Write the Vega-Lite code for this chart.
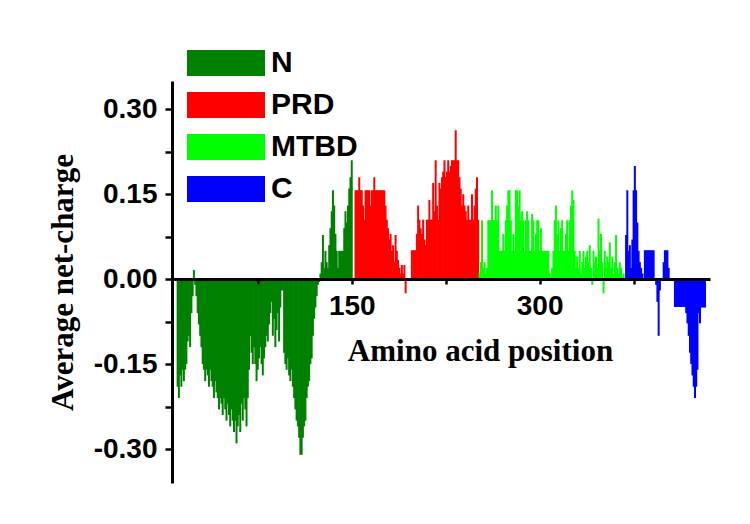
{
  "$schema": "https://vega.github.io/schema/vega-lite/v6.json",
  "width": 538,
  "height": 402,
  "autosize": {"type": "none"},
  "padding": {"left": 172, "top": 81, "right": 40, "bottom": 41},
  "background": "white",
  "config": {"view": {"stroke": null}},
  "data": {"values": [
    {"p":11,"v":-0.19,"d":"N"},{"p":12,"v":-0.21,"d":"N"},{"p":13,"v":-0.17,"d":"N"},{"p":14,"v":-0.19,"d":"N"},{"p":15,"v":-0.16,"d":"N"},
    {"p":16,"v":-0.18,"d":"N"},{"p":17,"v":-0.16,"d":"N"},{"p":18,"v":-0.15,"d":"N"},{"p":19,"v":-0.11,"d":"N"},{"p":20,"v":-0.10,"d":"N"},
    {"p":21,"v":-0.12,"d":"N"},{"p":22,"v":-0.06,"d":"N"},{"p":23,"v":-0.03,"d":"N"},{"p":24,"v":0.016,"d":"N"},{"p":25,"v":-0.01,"d":"N"},
    {"p":26,"v":-0.03,"d":"N"},{"p":27,"v":-0.06,"d":"N"},{"p":28,"v":-0.08,"d":"N"},{"p":29,"v":-0.10,"d":"N"},{"p":30,"v":-0.12,"d":"N"},
    {"p":31,"v":-0.15,"d":"N"},{"p":32,"v":-0.16,"d":"N"},{"p":33,"v":-0.18,"d":"N"},{"p":34,"v":-0.16,"d":"N"},{"p":35,"v":-0.17,"d":"N"},
    {"p":36,"v":-0.19,"d":"N"},{"p":37,"v":-0.16,"d":"N"},{"p":38,"v":-0.18,"d":"N"},{"p":39,"v":-0.19,"d":"N"},{"p":40,"v":-0.21,"d":"N"},
    {"p":41,"v":-0.18,"d":"N"},{"p":42,"v":-0.20,"d":"N"},{"p":43,"v":-0.21,"d":"N"},{"p":44,"v":-0.23,"d":"N"},{"p":45,"v":-0.21,"d":"N"},
    {"p":46,"v":-0.22,"d":"N"},{"p":47,"v":-0.24,"d":"N"},{"p":48,"v":-0.21,"d":"N"},{"p":49,"v":-0.23,"d":"N"},{"p":50,"v":-0.25,"d":"N"},
    {"p":51,"v":-0.22,"d":"N"},{"p":52,"v":-0.24,"d":"N"},{"p":53,"v":-0.26,"d":"N"},{"p":54,"v":-0.23,"d":"N"},{"p":55,"v":-0.25,"d":"N"},
    {"p":56,"v":-0.27,"d":"N"},{"p":57,"v":-0.25,"d":"N"},{"p":58,"v":-0.29,"d":"N"},{"p":59,"v":-0.26,"d":"N"},{"p":60,"v":-0.24,"d":"N"},
    {"p":61,"v":-0.27,"d":"N"},{"p":62,"v":-0.22,"d":"N"},{"p":63,"v":-0.25,"d":"N"},{"p":64,"v":-0.21,"d":"N"},{"p":65,"v":-0.23,"d":"N"},
    {"p":66,"v":-0.26,"d":"N"},{"p":67,"v":-0.21,"d":"N"},{"p":68,"v":-0.16,"d":"N"},{"p":69,"v":-0.10,"d":"N"},{"p":70,"v":-0.13,"d":"N"},
    {"p":71,"v":-0.15,"d":"N"},{"p":72,"v":-0.12,"d":"N"},{"p":73,"v":-0.15,"d":"N"},{"p":74,"v":-0.18,"d":"N"},{"p":75,"v":-0.16,"d":"N"},
    {"p":76,"v":-0.14,"d":"N"},{"p":77,"v":-0.12,"d":"N"},{"p":78,"v":-0.15,"d":"N"},{"p":79,"v":-0.17,"d":"N"},{"p":80,"v":-0.14,"d":"N"},
    {"p":81,"v":-0.12,"d":"N"},{"p":82,"v":-0.10,"d":"N"},{"p":83,"v":-0.11,"d":"N"},{"p":84,"v":-0.08,"d":"N"},{"p":85,"v":-0.06,"d":"N"},
    {"p":86,"v":-0.04,"d":"N"},{"p":87,"v":-0.10,"d":"N"},{"p":88,"v":-0.07,"d":"N"},{"p":89,"v":-0.12,"d":"N"},{"p":90,"v":-0.09,"d":"N"},
    {"p":91,"v":-0.06,"d":"N"},{"p":92,"v":-0.11,"d":"N"},{"p":93,"v":-0.05,"d":"N"},{"p":94,"v":-0.02,"d":"N"},{"p":95,"v":-0.02,"d":"N"},
    {"p":96,"v":-0.13,"d":"N"},{"p":97,"v":-0.15,"d":"N"},{"p":98,"v":-0.16,"d":"N"},{"p":99,"v":-0.14,"d":"N"},{"p":100,"v":-0.17,"d":"N"},
    {"p":101,"v":-0.18,"d":"N"},{"p":102,"v":-0.16,"d":"N"},{"p":103,"v":-0.19,"d":"N"},{"p":104,"v":-0.21,"d":"N"},{"p":105,"v":-0.23,"d":"N"},
    {"p":106,"v":-0.25,"d":"N"},{"p":107,"v":-0.26,"d":"N"},{"p":108,"v":-0.28,"d":"N"},{"p":109,"v":-0.31,"d":"N"},{"p":110,"v":-0.31,"d":"N"},
    {"p":111,"v":-0.28,"d":"N"},{"p":112,"v":-0.26,"d":"N"},{"p":113,"v":-0.25,"d":"N"},{"p":114,"v":-0.21,"d":"N"},{"p":115,"v":-0.19,"d":"N"},
    {"p":116,"v":-0.18,"d":"N"},{"p":117,"v":-0.15,"d":"N"},{"p":118,"v":-0.14,"d":"N"},{"p":119,"v":-0.10,"d":"N"},{"p":120,"v":-0.07,"d":"N"},
    {"p":121,"v":-0.05,"d":"N"},{"p":122,"v":-0.03,"d":"N"},{"p":123,"v":-0.01,"d":"N"},{"p":124,"v":-0.005,"d":"N"},{"p":125,"v":0.01,"d":"N"},
    {"p":126,"v":0.03,"d":"N"},{"p":127,"v":0.078,"d":"N"},{"p":128,"v":0.02,"d":"N"},{"p":129,"v":0.05,"d":"N"},{"p":130,"v":0.03,"d":"N"},
    {"p":131,"v":0.02,"d":"N"},{"p":132,"v":0.06,"d":"N"},{"p":133,"v":0.09,"d":"N"},{"p":134,"v":0.12,"d":"N"},{"p":135,"v":0.157,"d":"N"},
    {"p":136,"v":0.13,"d":"N"},{"p":137,"v":0.08,"d":"N"},{"p":138,"v":0.05,"d":"N"},{"p":139,"v":0.02,"d":"N"},{"p":140,"v":0.05,"d":"N"},
    {"p":141,"v":0.05,"d":"N"},{"p":142,"v":0.05,"d":"N"},{"p":143,"v":0.05,"d":"N"},{"p":144,"v":0.09,"d":"N"},{"p":145,"v":0.12,"d":"N"},
    {"p":146,"v":0.10,"d":"N"},{"p":147,"v":0.13,"d":"N"},{"p":148,"v":0.16,"d":"N"},{"p":149,"v":0.18,"d":"N"},{"p":150,"v":0.21,"d":"N"},
    {"p":151,"v":0.0,"d":"N"},
    {"p":152,"v":0.0,"d":"PRD"},{"p":153,"v":0.157,"d":"PRD"},{"p":154,"v":0.157,"d":"PRD"},{"p":155,"v":0.157,"d":"PRD"},{"p":156,"v":0.18,"d":"PRD"},
    {"p":157,"v":0.157,"d":"PRD"},{"p":158,"v":0.157,"d":"PRD"},{"p":159,"v":0.13,"d":"PRD"},{"p":160,"v":0.105,"d":"PRD"},{"p":161,"v":0.157,"d":"PRD"},
    {"p":162,"v":0.157,"d":"PRD"},{"p":163,"v":0.157,"d":"PRD"},{"p":164,"v":0.157,"d":"PRD"},{"p":165,"v":0.13,"d":"PRD"},{"p":166,"v":0.157,"d":"PRD"},
    {"p":167,"v":0.157,"d":"PRD"},{"p":168,"v":0.18,"d":"PRD"},{"p":169,"v":0.157,"d":"PRD"},{"p":170,"v":0.157,"d":"PRD"},{"p":171,"v":0.157,"d":"PRD"},
    {"p":172,"v":0.157,"d":"PRD"},{"p":173,"v":0.157,"d":"PRD"},{"p":174,"v":0.157,"d":"PRD"},{"p":175,"v":0.157,"d":"PRD"},{"p":176,"v":0.157,"d":"PRD"},
    {"p":177,"v":0.13,"d":"PRD"},{"p":178,"v":0.105,"d":"PRD"},{"p":179,"v":0.09,"d":"PRD"},{"p":180,"v":0.07,"d":"PRD"},{"p":181,"v":0.08,"d":"PRD"},
    {"p":182,"v":0.05,"d":"PRD"},{"p":183,"v":0.06,"d":"PRD"},{"p":184,"v":0.03,"d":"PRD"},{"p":185,"v":0.078,"d":"PRD"},{"p":186,"v":0.05,"d":"PRD"},
    {"p":187,"v":0.034,"d":"PRD"},{"p":188,"v":0.02,"d":"PRD"},{"p":189,"v":0.01,"d":"PRD"},{"p":190,"v":0.025,"d":"PRD"},{"p":191,"v":0.01,"d":"PRD"},
    {"p":192,"v":0.025,"d":"PRD"},{"p":193,"v":-0.025,"d":"PRD"},{"p":194,"v":0.0,"d":"PRD"},{"p":195,"v":0.0,"d":"PRD"},{"p":196,"v":0.0,"d":"PRD"},
    {"p":197,"v":0.0,"d":"PRD"},{"p":198,"v":0.051,"d":"PRD"},{"p":199,"v":0.051,"d":"PRD"},{"p":200,"v":0.051,"d":"PRD"},{"p":201,"v":0.051,"d":"PRD"},
    {"p":202,"v":0.08,"d":"PRD"},{"p":203,"v":0.13,"d":"PRD"},{"p":204,"v":0.105,"d":"PRD"},{"p":205,"v":0.09,"d":"PRD"},{"p":206,"v":0.08,"d":"PRD"},
    {"p":207,"v":0.105,"d":"PRD"},{"p":208,"v":0.07,"d":"PRD"},{"p":209,"v":0.06,"d":"PRD"},{"p":210,"v":0.105,"d":"PRD"},{"p":211,"v":0.105,"d":"PRD"},
    {"p":212,"v":0.14,"d":"PRD"},{"p":213,"v":0.105,"d":"PRD"},{"p":214,"v":0.105,"d":"PRD"},{"p":215,"v":0.17,"d":"PRD"},{"p":216,"v":0.12,"d":"PRD"},
    {"p":217,"v":0.21,"d":"PRD"},{"p":218,"v":0.13,"d":"PRD"},{"p":219,"v":0.105,"d":"PRD"},{"p":220,"v":0.17,"d":"PRD"},{"p":221,"v":0.16,"d":"PRD"},
    {"p":222,"v":0.18,"d":"PRD"},{"p":223,"v":0.19,"d":"PRD"},{"p":224,"v":0.21,"d":"PRD"},{"p":225,"v":0.18,"d":"PRD"},{"p":226,"v":0.19,"d":"PRD"},
    {"p":227,"v":0.21,"d":"PRD"},{"p":228,"v":0.19,"d":"PRD"},{"p":229,"v":0.2,"d":"PRD"},{"p":230,"v":0.21,"d":"PRD"},{"p":231,"v":0.21,"d":"PRD"},
    {"p":232,"v":0.21,"d":"PRD"},{"p":233,"v":0.263,"d":"PRD"},{"p":234,"v":0.21,"d":"PRD"},{"p":235,"v":0.21,"d":"PRD"},{"p":236,"v":0.18,"d":"PRD"},
    {"p":237,"v":0.16,"d":"PRD"},{"p":238,"v":0.13,"d":"PRD"},{"p":239,"v":0.15,"d":"PRD"},{"p":240,"v":0.13,"d":"PRD"},{"p":241,"v":0.12,"d":"PRD"},
    {"p":242,"v":0.105,"d":"PRD"},{"p":243,"v":0.13,"d":"PRD"},{"p":244,"v":0.105,"d":"PRD"},{"p":245,"v":0.105,"d":"PRD"},{"p":246,"v":0.15,"d":"PRD"},
    {"p":247,"v":0.105,"d":"PRD"},{"p":248,"v":0.13,"d":"PRD"},{"p":249,"v":0.16,"d":"PRD"},{"p":250,"v":0.18,"d":"PRD"},{"p":251,"v":0.105,"d":"PRD"},
    {"p":252,"v":0.01,"d":"MTBD"},{"p":253,"v":0.03,"d":"MTBD"},{"p":254,"v":0.104,"d":"MTBD"},{"p":255,"v":0.02,"d":"MTBD"},{"p":256,"v":0.03,"d":"MTBD"},
    {"p":257,"v":0.01,"d":"MTBD"},{"p":258,"v":0.02,"d":"MTBD"},{"p":259,"v":0.104,"d":"MTBD"},{"p":260,"v":0.104,"d":"MTBD"},{"p":261,"v":0.104,"d":"MTBD"},
    {"p":262,"v":0.157,"d":"MTBD"},{"p":263,"v":0.104,"d":"MTBD"},{"p":264,"v":0.104,"d":"MTBD"},{"p":265,"v":0.13,"d":"MTBD"},{"p":266,"v":0.104,"d":"MTBD"},
    {"p":267,"v":0.13,"d":"MTBD"},{"p":268,"v":0.05,"d":"MTBD"},{"p":269,"v":0.05,"d":"MTBD"},{"p":270,"v":0.05,"d":"MTBD"},{"p":271,"v":0.08,"d":"MTBD"},
    {"p":272,"v":0.05,"d":"MTBD"},{"p":273,"v":0.104,"d":"MTBD"},{"p":274,"v":0.13,"d":"MTBD"},{"p":275,"v":0.157,"d":"MTBD"},{"p":276,"v":0.157,"d":"MTBD"},
    {"p":277,"v":0.104,"d":"MTBD"},{"p":278,"v":0.05,"d":"MTBD"},{"p":279,"v":0.08,"d":"MTBD"},{"p":280,"v":0.05,"d":"MTBD"},{"p":281,"v":0.157,"d":"MTBD"},
    {"p":282,"v":0.157,"d":"MTBD"},{"p":283,"v":0.13,"d":"MTBD"},{"p":284,"v":0.157,"d":"MTBD"},{"p":285,"v":0.104,"d":"MTBD"},{"p":286,"v":0.12,"d":"MTBD"},
    {"p":287,"v":0.104,"d":"MTBD"},{"p":288,"v":0.05,"d":"MTBD"},{"p":289,"v":0.104,"d":"MTBD"},{"p":290,"v":0.12,"d":"MTBD"},{"p":291,"v":0.104,"d":"MTBD"},
    {"p":292,"v":0.05,"d":"MTBD"},{"p":293,"v":0.05,"d":"MTBD"},{"p":294,"v":0.115,"d":"MTBD"},{"p":295,"v":0.104,"d":"MTBD"},{"p":296,"v":0.05,"d":"MTBD"},
    {"p":297,"v":0.08,"d":"MTBD"},{"p":298,"v":0.104,"d":"MTBD"},{"p":299,"v":0.104,"d":"MTBD"},{"p":300,"v":0.05,"d":"MTBD"},{"p":301,"v":0.09,"d":"MTBD"},
    {"p":302,"v":0.05,"d":"MTBD"},{"p":303,"v":0.05,"d":"MTBD"},{"p":304,"v":0.05,"d":"MTBD"},{"p":305,"v":0.05,"d":"MTBD"},{"p":306,"v":0.05,"d":"MTBD"},
    {"p":307,"v":0.05,"d":"MTBD"},{"p":308,"v":0.01,"d":"MTBD"},{"p":309,"v":0.005,"d":"MTBD"},{"p":310,"v":0.02,"d":"MTBD"},{"p":311,"v":0.05,"d":"MTBD"},
    {"p":312,"v":0.104,"d":"MTBD"},{"p":313,"v":0.13,"d":"MTBD"},{"p":314,"v":0.08,"d":"MTBD"},{"p":315,"v":0.104,"d":"MTBD"},{"p":316,"v":0.05,"d":"MTBD"},
    {"p":317,"v":0.09,"d":"MTBD"},{"p":318,"v":0.104,"d":"MTBD"},{"p":319,"v":0.05,"d":"MTBD"},{"p":320,"v":0.05,"d":"MTBD"},{"p":321,"v":0.08,"d":"MTBD"},
    {"p":322,"v":0.104,"d":"MTBD"},{"p":323,"v":0.05,"d":"MTBD"},{"p":324,"v":0.104,"d":"MTBD"},{"p":325,"v":0.13,"d":"MTBD"},{"p":326,"v":0.157,"d":"MTBD"},
    {"p":327,"v":0.14,"d":"MTBD"},{"p":328,"v":0.05,"d":"MTBD"},{"p":329,"v":0.02,"d":"MTBD"},{"p":330,"v":0.04,"d":"MTBD"},{"p":331,"v":0.02,"d":"MTBD"},
    {"p":332,"v":0.05,"d":"MTBD"},{"p":333,"v":0.01,"d":"MTBD"},{"p":334,"v":0.03,"d":"MTBD"},{"p":335,"v":0.05,"d":"MTBD"},{"p":336,"v":0.02,"d":"MTBD"},
    {"p":337,"v":0.04,"d":"MTBD"},{"p":338,"v":0.05,"d":"MTBD"},{"p":339,"v":0.03,"d":"MTBD"},{"p":340,"v":0.06,"d":"MTBD"},{"p":341,"v":0.02,"d":"MTBD"},
    {"p":342,"v":-0.01,"d":"MTBD"},{"p":343,"v":0.05,"d":"MTBD"},{"p":344,"v":0.03,"d":"MTBD"},{"p":345,"v":0.04,"d":"MTBD"},{"p":346,"v":0.02,"d":"MTBD"},
    {"p":347,"v":0.107,"d":"MTBD"},{"p":348,"v":0.05,"d":"MTBD"},{"p":349,"v":0.08,"d":"MTBD"},{"p":350,"v":0.03,"d":"MTBD"},{"p":351,"v":-0.025,"d":"MTBD"},
    {"p":352,"v":0.05,"d":"MTBD"},{"p":353,"v":0.02,"d":"MTBD"},{"p":354,"v":0.04,"d":"MTBD"},{"p":355,"v":0.03,"d":"MTBD"},{"p":356,"v":0.065,"d":"MTBD"},
    {"p":357,"v":0.02,"d":"MTBD"},{"p":358,"v":0.04,"d":"MTBD"},{"p":359,"v":0.01,"d":"MTBD"},{"p":360,"v":0.03,"d":"MTBD"},{"p":361,"v":0.078,"d":"MTBD"},
    {"p":362,"v":0.02,"d":"MTBD"},{"p":363,"v":0.01,"d":"MTBD"},{"p":364,"v":0.03,"d":"MTBD"},{"p":365,"v":0.02,"d":"MTBD"},{"p":366,"v":0.005,"d":"MTBD"},
    {"p":367,"v":0.01,"d":"MTBD"},{"p":368,"v":0.0,"d":"MTBD"},
    {"p":369,"v":0.078,"d":"C"},{"p":370,"v":0.157,"d":"C"},{"p":371,"v":0.05,"d":"C"},{"p":372,"v":0.06,"d":"C"},{"p":373,"v":0.02,"d":"C"},
    {"p":374,"v":0.07,"d":"C"},{"p":375,"v":0.157,"d":"C"},{"p":376,"v":0.2,"d":"C"},{"p":377,"v":0.157,"d":"C"},{"p":378,"v":0.10,"d":"C"},
    {"p":379,"v":0.05,"d":"C"},{"p":380,"v":0.03,"d":"C"},{"p":381,"v":0.02,"d":"C"},{"p":382,"v":0.01,"d":"C"},{"p":383,"v":0.0,"d":"C"},
    {"p":384,"v":0.051,"d":"C"},{"p":385,"v":0.051,"d":"C"},{"p":386,"v":0.051,"d":"C"},{"p":387,"v":0.051,"d":"C"},{"p":388,"v":0.051,"d":"C"},
    {"p":389,"v":0.051,"d":"C"},{"p":390,"v":0.051,"d":"C"},{"p":391,"v":0.051,"d":"C"},{"p":392,"v":0.0,"d":"C"},{"p":393,"v":-0.01,"d":"C"},
    {"p":394,"v":-0.04,"d":"C"},{"p":395,"v":-0.10,"d":"C"},{"p":396,"v":-0.02,"d":"C"},{"p":397,"v":0.0,"d":"C"},{"p":398,"v":0.0,"d":"C"},
    {"p":399,"v":0.03,"d":"C"},{"p":400,"v":0.051,"d":"C"},{"p":401,"v":0.051,"d":"C"},{"p":402,"v":0.051,"d":"C"},{"p":403,"v":0.02,"d":"C"},
    {"p":404,"v":0.0,"d":"C"},{"p":405,"v":0.0,"d":"C"},{"p":406,"v":0.0,"d":"C"},{"p":407,"v":0.0,"d":"C"},{"p":408,"v":-0.049,"d":"C"},
    {"p":409,"v":-0.049,"d":"C"},{"p":410,"v":-0.049,"d":"C"},{"p":411,"v":-0.049,"d":"C"},{"p":412,"v":-0.049,"d":"C"},{"p":413,"v":-0.049,"d":"C"},
    {"p":414,"v":-0.049,"d":"C"},{"p":415,"v":-0.049,"d":"C"},{"p":416,"v":-0.049,"d":"C"},{"p":417,"v":-0.06,"d":"C"},{"p":418,"v":-0.078,"d":"C"},
    {"p":419,"v":-0.10,"d":"C"},{"p":420,"v":-0.13,"d":"C"},{"p":421,"v":-0.15,"d":"C"},{"p":422,"v":-0.17,"d":"C"},{"p":423,"v":-0.19,"d":"C"},
    {"p":424,"v":-0.21,"d":"C"},{"p":425,"v":-0.19,"d":"C"},{"p":426,"v":-0.16,"d":"C"},{"p":427,"v":-0.06,"d":"C"},{"p":428,"v":-0.078,"d":"C"},
    {"p":429,"v":-0.05,"d":"C"},{"p":430,"v":-0.05,"d":"C"},{"p":431,"v":-0.05,"d":"C"},{"p":432,"v":-0.05,"d":"C"}
  ]},
  "mark": {"type": "bar", "size": 2},
  "encoding": {
    "x": {
      "field": "p",
      "type": "quantitative",
      "scale": {"domain": [10.5, 432], "nice": false, "zero": false},
      "axis": {
        "values": [75, 150, 225, 300, 375],
        "labelExpr": "datum.value == 150 || datum.value == 300 ? datum.label : ''",
        "offset": -204,
        "zindex": 1,
        "grid": false,
        "domainColor": "black",
        "domainWidth": 3,
        "tickColor": "black",
        "tickWidth": 2.5,
        "tickSize": 5,
        "labelFont": "Liberation Sans",
        "labelFontSize": 28,
        "labelFontWeight": "bold",
        "labelColor": "black",
        "labelPadding": 8,
        "title": "Amino acid position",
        "titleFont": "Liberation Serif",
        "titleFontSize": 31,
        "titleFontWeight": "bold",
        "titleColor": "black",
        "titleX": 308,
        "titleY": 81,
        "titleBaseline": "alphabetic"
      }
    },
    "y": {
      "field": "v",
      "type": "quantitative",
      "scale": {"domain": [-0.36, 0.35], "nice": false},
      "axis": {
        "values": [-0.3, -0.225, -0.15, -0.075, 0, 0.075, 0.15, 0.225, 0.3],
        "labelExpr": "indexof([-0.3, -0.15, 0, 0.15, 0.3], datum.value) >= 0 ? replace(format(datum.value, '.2f'), '\u2212', '-') : ''",
        "zindex": 1,
        "grid": false,
        "domainColor": "black",
        "domainWidth": 3,
        "tickColor": "black",
        "tickWidth": 2.5,
        "tickSize": 7,
        "labelFont": "Liberation Sans",
        "labelFontSize": 28,
        "labelFontWeight": "bold",
        "labelColor": "black",
        "labelPadding": 8,
        "title": "Average net-charge",
        "titleFont": "Liberation Serif",
        "titleFontSize": 31,
        "titleFontWeight": "bold",
        "titleColor": "black",
        "titleX": -100,
        "titleY": 201,
        "titleAngle": -90,
        "titleBaseline": "alphabetic"
      }
    },
    "color": {
      "field": "d",
      "type": "nominal",
      "scale": {
        "domain": ["N", "PRD", "MTBD", "C"],
        "range": ["#008000", "#ff0000", "#00ff00", "#0000ff"]
      },
      "legend": {
        "title": null,
        "orient": "none",
        "legendX": 39,
        "legendY": -33,
        "symbolType": "M-3,-1H3V1H-3Z",
        "symbolSize": 676,
        "symbolStrokeWidth": 0,
        "symbolOpacity": 1,
        "rowPadding": 12,
        "labelOffset": 30,
        "labelFont": "Liberation Sans",
        "labelFontSize": 30,
        "labelFontWeight": "bold",
        "labelColor": "black"
      }
    }
  }
}
